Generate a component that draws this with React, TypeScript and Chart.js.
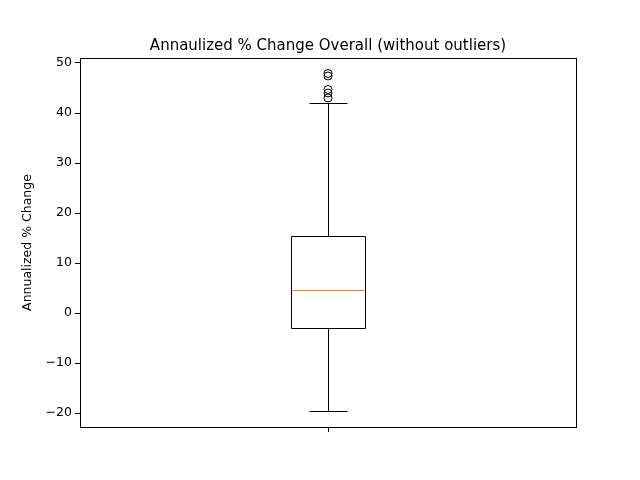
import { useEffect, useRef } from "react";
import { Chart, registerables } from "chart.js";

Chart.register(...registerables);

const boxStats = [-19.6, -2.9, 4.6, 15.4, 42.0]; // whisker low, q1, median, q3, whisker high
const outliers = [43.0, 44.0, 44.7, 47.4, 47.9];
const yTicks = [-20, -10, 0, 10, 20, 30, 40, 50];
const titleText = "Annaulized % Change Overall (without outliers)";

const px = (v: number) => Math.round(v) + 0.5;

const boxPlugin = {
  id: "boxDraw",
  afterDatasetsDraw(chart: any) {
    const { ctx, scales } = chart;
    const x = scales.x;
    const y = scales.y;
    const [lo, q1, med, q3, hi] = boxStats;
    const cx = px(x.getPixelForValue(1));
    const bl = px(x.getPixelForValue(0.925));
    const br = px(x.getPixelForValue(1.075));
    const cl = px(x.getPixelForValue(0.9625));
    const cr = px(x.getPixelForValue(1.0375));
    const Y = (v: number) => px(y.getPixelForValue(v));
    ctx.save();
    ctx.lineWidth = 1;
    ctx.strokeStyle = "#000";
    ctx.beginPath();
    ctx.rect(bl, Y(q3), br - bl, Y(q1) - Y(q3));
    ctx.moveTo(cx, Y(q1));
    ctx.lineTo(cx, Y(lo));
    ctx.moveTo(cl, Y(lo));
    ctx.lineTo(cr, Y(lo));
    ctx.moveTo(cx, Y(q3));
    ctx.lineTo(cx, Y(hi));
    ctx.moveTo(cl, Y(hi));
    ctx.lineTo(cr, Y(hi));
    ctx.stroke();
    ctx.strokeStyle = "#ff7f0e";
    ctx.beginPath();
    ctx.moveTo(bl, Y(med));
    ctx.lineTo(br, Y(med));
    ctx.stroke();
    const a = chart.chartArea;
    ctx.strokeStyle = "#000";
    ctx.strokeRect(px(a.left), px(a.top), Math.round(a.right - a.left), Math.round(a.bottom - a.top));
    ctx.fillStyle = "#000";
    ctx.font = "15px 'DejaVu Sans'";
    ctx.textAlign = "center";
    ctx.textBaseline = "alphabetic";
    ctx.fillText(titleText, (a.left + a.right) / 2, a.top - 8);
    ctx.restore();
  },
};

export default function App() {
  const ref = useRef<HTMLCanvasElement>(null);

  useEffect(() => {
    document.body.style.margin = "0";
    const font = { family: "DejaVu Sans", size: 12.5 };
    const chart = new Chart(ref.current!, {
      type: "scatter",
      data: {
        datasets: [
          {
            data: outliers.map((v) => ({ x: 1, y: v })),
            pointStyle: "circle",
            radius: 4,
            borderColor: "#000",
            backgroundColor: "rgba(0,0,0,0)",
            borderWidth: 1,
          },
        ],
      },
      options: {
        animation: false,
        responsive: false,
        layout: { padding: { right: 64, top: 58 } },
        plugins: {
          legend: { display: false },
          tooltip: { enabled: false },
        },
        scales: {
          x: {
            type: "linear",
            min: 0.5,
            max: 1.5,
            afterBuildTicks: (s: any) => {
              s.ticks = [{ value: 1 }];
            },
            afterFit: (s: any) => {
              s.height = 53;
            },
            grid: { drawOnChartArea: false, tickLength: 5, tickColor: "#000" },
            border: { display: false },
            ticks: { callback: () => "", color: "#000" },
          },
          y: {
            min: -22.8,
            max: 51,
            afterBuildTicks: (s: any) => {
              s.ticks = yTicks.map((v) => ({ value: v }));
            },
            afterFit: (s: any) => {
              s.width = 80;
            },
            grid: { drawOnChartArea: false, tickLength: 5, tickColor: "#000" },
            border: { display: false },
            ticks: {
              color: "#000",
              font,
              padding: 3,
              callback: (v: any) => (v < 0 ? "\u2212" + Math.abs(v) : String(v)),
            },
            title: {
              display: true,
              text: "Annualized % Change",
              color: "#000",
              font,
              padding: { top: 20, bottom: 0 },
            },
          },
        },
      },
      plugins: [boxPlugin],
    });
    return () => chart.destroy();
  }, []);

  return <canvas ref={ref} width={640} height={480} />;
}
